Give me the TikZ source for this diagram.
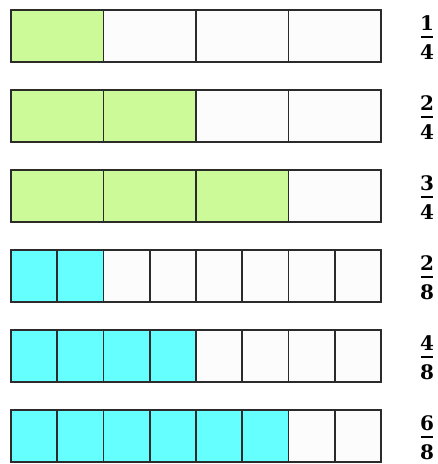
\documentclass[tikz,border=0pt]{standalone}
\usepackage{fontspec}
\setmainfont{DejaVu Serif}
\definecolor{quarterfill}{HTML}{CCFA99}
\definecolor{eighthfill}{HTML}{66FFFF}
\definecolor{emptyfill}{HTML}{FCFCFC}
\definecolor{cellline}{HTML}{2B2B2B}

\begin{document}
\begin{tikzpicture}[x=0.75pt,y=-0.75pt,
  cell/.style={draw=cellline, line width=1.2pt},
  digit/.style={font=\fontsize{15}{18}\selectfont\bfseries, inner sep=0pt, text=black}]
  \useasboundingbox (0,0) rectangle (438,464);
  % one bar per row: top, parts, shaded parts, colour
  \foreach \top/\den/\num/\col [count=\i] in {10/4/1/quarterfill, 90/4/2/quarterfill,
      170/4/3/quarterfill, 250/8/2/eighthfill, 330/8/4/eighthfill, 410/8/6/eighthfill}{
    \pgfmathsetmacro{\w}{370/\den}
    \foreach \k in {1,...,\den}{
      \pgfmathsetmacro{\xa}{11+(\k-1)*\w}
      \pgfmathsetmacro{\xb}{11+\k*\w}
      \ifnum\k>\num
        \filldraw[cell, fill=emptyfill] (\xa,\top) rectangle (\xb,\top+52);
      \else
        \filldraw[cell, fill=\col] (\xa,\top) rectangle (\xb,\top+52);
      \fi
    }
    % fraction on the right
    \node[digit] (num\i) at (427,\top+13) {\num};
    \node[digit] (den\i) at (427,\top+42) {\den};
    \draw[line width=1.5pt] (421,\top+26.5) -- (433,\top+26.5);
  }
\end{tikzpicture}
\end{document}
